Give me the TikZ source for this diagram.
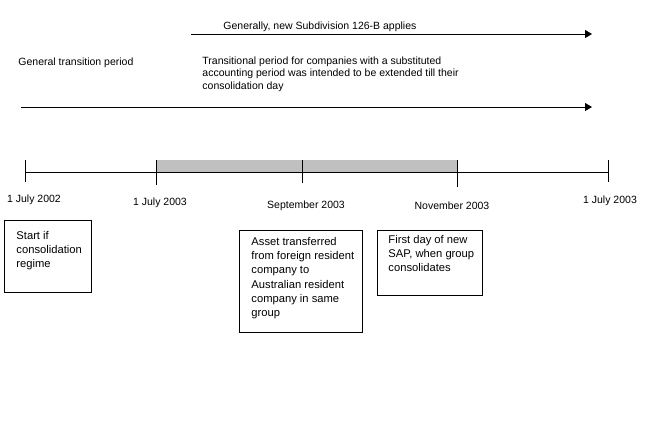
\documentclass[tikz,border=0pt]{standalone}
\usepackage{fontspec}
\setmainfont{Liberation Sans}
\usetikzlibrary{arrows.meta}
\definecolor{periodgray}{RGB}{192,192,192}
\newcommand{\toptext}{\fontsize{10.5}{12.5}\selectfont}
\newcommand{\boxtext}{\fontsize{11.2}{14.2}\selectfont}
% box of fixed size: width, height, top gap, left gap, text
\newcommand{\notepar}[5]{\parbox[t][#2][t]{#1}{\vspace*{#3}\raggedright\leftskip=#4\relax #5}}
\begin{document}
\begin{tikzpicture}[x=1pt, y=-1pt, line width=0.9pt,
    every node/.style={inner sep=0pt},
    period/.style={-{Triangle[length=7pt, width=8pt]}},
    datelabel/.style={font=\toptext},
    notebox/.style={draw, anchor=north west, font=\boxtext}]
    \useasboundingbox (0, 0) rectangle (645, 429);
    % periods
    \coordinate (newstart) at (191, 34);
    \coordinate (newend) at (592, 34);
    \coordinate (genstart) at (21, 107);
    \coordinate (genend) at (592, 107);
    \draw[period] (newstart) -- (newend);
    \draw[period] (genstart) -- (genend);
    \node[anchor=west, font=\toptext] (newlabel) at (223, 27) {Generally, new Subdivision 126-B applies};
    \node[anchor=west, font=\toptext] (genlabel) at (18, 62.5) {General transition period};
    \node[anchor=north west, align=left, font=\toptext] (translabel) at (202, 56) {Transitional period for companies with a substituted\\accounting period was intended to be extended till their\\consolidation day};
    % timeline
    \fill[periodgray] (156, 160) rectangle (457, 172);
    \coordinate (t0) at (25, 172);
    \coordinate (t4) at (608, 172);
    \draw (t0) -- (t4);
    \foreach \x/\b in {25/182, 156/185, 302/183, 457/187, 608/182}
        \draw (\x, 160) -- (\x, \b);
    \node[datelabel] (d0) at (34, 200) {1 July 2002};
    \node[datelabel] (d1) at (160, 203) {1 July 2003};
    \node[datelabel] (d2) at (306, 206) {September 2003};
    \node[datelabel] (d3) at (452, 206) {November 2003};
    \node[datelabel] (d4) at (610, 201) {1 July 2003};
    % events
    \node[notebox] (start) at (4, 220) {\notepar{87pt}{72pt}{11pt}{12pt}{Start if\\consolidation\\regime}};
    \node[notebox] (asset) at (239, 230) {\notepar{123pt}{102pt}{7pt}{12pt}{Asset transferred\\from foreign resident\\company to\\Australian resident\\company in same\\group}};
    \node[notebox] (sap) at (377, 230) {\notepar{105pt}{65pt}{5pt}{11pt}{First day of new\\SAP, when group\\consolidates}};
\end{tikzpicture}
\end{document}
